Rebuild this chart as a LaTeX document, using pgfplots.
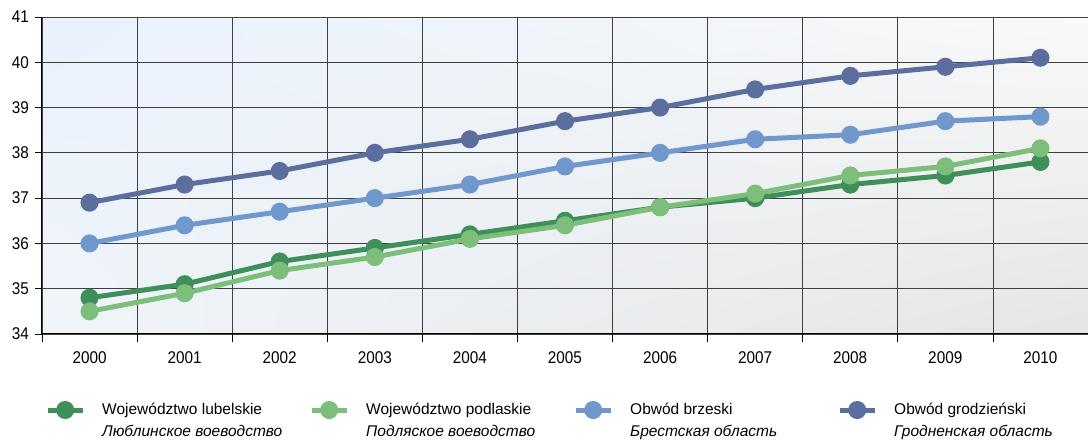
\documentclass[border=0pt]{standalone}
\usepackage{pgfplots}
\pgfplotsset{compat=1.18}
\usetikzlibrary{shadings}
\usepackage{fontspec}
\setmainfont{Liberation Sans}
\newfontfamily\narrowfont[FakeStretch=0.9]{Liberation Sans}
\definecolor{cLub}{HTML}{3F8F5B}
\definecolor{cPod}{HTML}{7DBE7B}
\definecolor{cBre}{HTML}{7098CC}
\definecolor{cGro}{HTML}{5B6E9D}
\definecolor{bgUL}{HTML}{E8F1FC}
\definecolor{bgLL}{HTML}{F0F5FA}
\definecolor{bgUR}{HTML}{F9F9F9}
\definecolor{bgLR}{HTML}{E5E5E5}
\begin{document}
\fontsize{15pt}{18pt}\selectfont
\begin{tikzpicture}
\begin{axis}[
  at={(0,0)}, anchor=south west,
  scale only axis, width=1046pt, height=317pt,
  xmin=1999.5, xmax=2010.5, ymin=34, ymax=41,
  xtick={2000,...,2010}, minor xtick={1999.5,2000.5,...,2010.5},
  ytick={34,...,41},
  /pgf/number format/1000 sep={},
  /pgf/number format/assume math mode=true,
  ticklabel style={font=\narrowfont\fontsize{17pt}{20pt}\selectfont},
  axis lines=left, axis line style={-, black, line width=1pt},
  tick align=outside,
  major tick length=7pt, minor tick length=8pt,
  major x tick style={draw=none},
  minor x tick style={black, line width=0.8pt},
  y tick style={black, line width=0.8pt},
  ymajorgrids=true, xminorgrids=true,
  major grid style={black!75, line width=0.8pt},
  minor grid style={black!75, line width=0.8pt},
  xticklabel style={yshift=-5pt},
  yticklabel style={xshift=-1pt},
  axis background/.style={shade, upper left=bgUL, lower left=bgLL, upper right=bgUR, lower right=bgLR},
  every axis plot/.append style={line width=5pt, mark=*, mark size=6.5pt, mark options={solid}},
  legend style={at={(0,-0.205)}, anchor=north west, draw=none, fill=none, legend columns=4, font=\fontsize{15.5pt}{22pt}\selectfont,
    /tikz/every odd column/.append style={column sep=15pt}},
  legend cell align=left,
  legend image code/.code={\draw[#1,mark repeat=2,mark phase=2] plot coordinates {(0pt,0pt)(17.5pt,0pt)(35pt,0pt)};},
]
\addplot[cLub] coordinates {(2000,34.8)(2001,35.1)(2002,35.6)(2003,35.9)(2004,36.2)(2005,36.5)(2006,36.8)(2007,37.0)(2008,37.3)(2009,37.5)(2010,37.8)};
\addlegendentry{\parbox[t]{205pt}{Województwo lubelskie\\\textit{Люблинское воеводство}}}
\addplot[cPod] coordinates {(2000,34.5)(2001,34.9)(2002,35.4)(2003,35.7)(2004,36.1)(2005,36.4)(2006,36.8)(2007,37.1)(2008,37.5)(2009,37.7)(2010,38.1)};
\addlegendentry{\parbox[t]{205pt}{Województwo podlaskie\\\textit{Подляское воеводство}}}
\addplot[cBre] coordinates {(2000,36.0)(2001,36.4)(2002,36.7)(2003,37.0)(2004,37.3)(2005,37.7)(2006,38.0)(2007,38.3)(2008,38.4)(2009,38.7)(2010,38.8)};
\addlegendentry{\parbox[t]{205pt}{Obwód brzeski\\\textit{Брестская область}}}
\addplot[cGro] coordinates {(2000,36.9)(2001,37.3)(2002,37.6)(2003,38.0)(2004,38.3)(2005,38.7)(2006,39.0)(2007,39.4)(2008,39.7)(2009,39.9)(2010,40.1)};
\addlegendentry{\parbox[t]{170pt}{Obwód grodzieński\\\textit{Гродненская область}}}
\end{axis}
\pgfresetboundingbox
\path (-42pt,-110pt) rectangle (1046pt,334pt);
\end{tikzpicture}
\end{document}
